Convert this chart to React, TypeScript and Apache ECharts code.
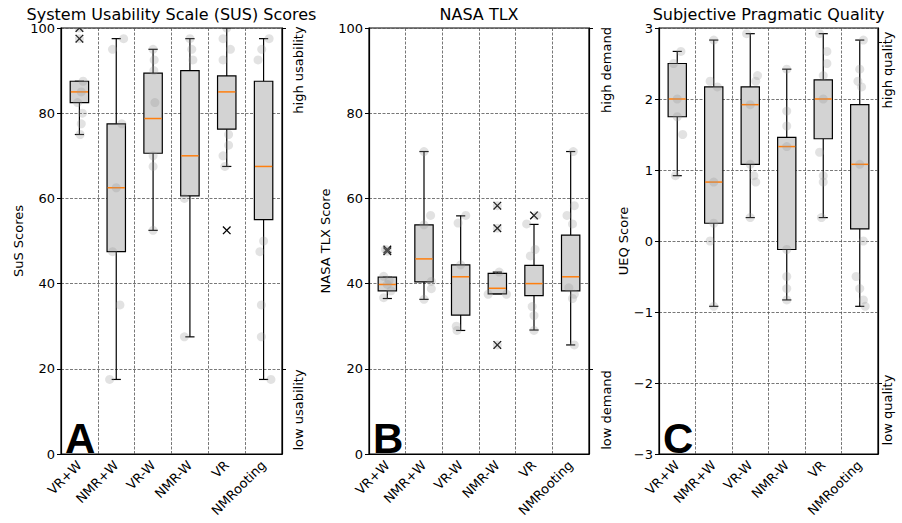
import React, { useEffect, useRef } from "react";
import * as echarts from "echarts";

const categories = ["VR+W", "NMR+W", "VR-W", "NMR-W", "VR", "NMRooting"];

// Box statistics per condition: [lower whisker, Q1, median, Q3, upper whisker]
const susBoxes = [
  [75, 82.5, 85, 87.5, 87.5],
  [17.5, 47.5, 62.5, 77.5, 97.5],
  [52.5, 70.6, 78.75, 89.4, 95],
  [27.5, 60.6, 70, 90, 97.5],
  [67.5, 76.25, 85, 88.75, 100],
  [17.5, 55, 67.5, 87.5, 97.5],
];
const tlxBoxes = [
  [36.5, 38.3, 39.8, 41.5, 41.5],
  [36.3, 40.4, 45.8, 53.8, 71],
  [29.0, 32.6, 41.6, 44.4, 55.9],
  [37.6, 37.6, 38.9, 42.4, 42.7],
  [29.1, 37.2, 40, 44.3, 53.9],
  [25.6, 38.3, 41.6, 51.4, 71],
];
const ueqBoxes = [
  [0.92, 1.75, 2.0, 2.5, 2.67],
  [-0.92, 0.25, 0.83, 2.17, 2.83],
  [0.33, 1.08, 1.92, 2.17, 2.92],
  [-0.83, -0.12, 1.33, 1.46, 2.42],
  [0.33, 1.44, 2.0, 2.27, 2.92],
  [-0.92, 0.17, 1.08, 1.92, 2.83],
];

// Outliers: [condition index, value]
const susOutliers = [[0, 97.5], [0, 100], [4, 52.5]];
const tlxOutliers = [[0, 48], [0, 47.6], [3, 58.3], [3, 53], [3, 25.6], [4, 56]];
const ueqOutliers: number[][] = [];

// Individual responses: [condition index, value, horizontal jitter (fraction of band)]
const susPoints = [
  [0, 100, 0], [0, 97.5, 0], [0, 87.5, 0.1], [0, 85, 0.05], [0, 82.5, -0.05], [0, 80, 0.08], [0, 77.5, 0.05], [0, 75, 0.02],
  [1, 97.5, 0.2], [1, 95, -0.1], [1, 77.5, 0.15], [1, 62.5, 0], [1, 47.5, -0.1], [1, 35, 0.1], [1, 17.5, -0.18],
  [2, 95, 0], [2, 92.5, 0.03], [2, 90, 0.02], [2, 82.5, 0.05], [2, 70, 0], [2, 67.5, 0], [2, 52.5, 0],
  [3, 97.5, 0], [3, 95, 0.05], [3, 92.5, 0.08], [3, 60, -0.15], [3, 27.5, -0.15],
  [4, 100, 0], [4, 97.5, -0.1], [4, 95, 0.1], [4, 92.5, -0.1], [4, 75, 0.05], [4, 72.5, 0.05], [4, 70, -0.1], [4, 67.5, -0.05],
  [5, 97.5, 0.15], [5, 95, -0.05], [5, 92.5, -0.15], [5, 50, 0], [5, 47.5, -0.1], [5, 35, -0.06], [5, 27.5, -0.06], [5, 17.5, 0.2],
];
const tlxPoints = [
  [0, 48, -0.05], [0, 47.6, 0], [0, 41.7, -0.1], [0, 40.8, 0.05], [0, 39.8, 0], [0, 38.3, 0.1], [0, 36.7, -0.1],
  [1, 71, 0], [1, 56, 0.18], [1, 53.8, 0], [1, 40.5, 0.2], [1, 38.8, 0.2], [1, 36.3, 0],
  [2, 56, 0.14], [2, 54.2, -0.07], [2, 44.4, 0], [2, 30, -0.12], [2, 29, -0.1],
  [3, 58.3, 0], [3, 53, 0], [3, 42.7, 0.05], [3, 37.5, -0.25], [3, 37.5, 0.25], [3, 25.6, 0],
  [4, 56, 0.08], [4, 54, -0.2], [4, 48, 0.03], [4, 46.5, -0.1], [4, 34.6, -0.05], [4, 32.5, 0], [4, 29, 0],
  [5, 71, 0.07], [5, 58.3, 0.1], [5, 56, -0.1], [5, 54, 0.05], [5, 39, -0.05], [5, 37.5, 0.1], [5, 36.5, 0.05], [5, 25.6, 0.1],
];
const ueqPoints = [
  [0, 2.67, 0.1], [0, 2.5, -0.1], [0, 2.0, 0], [0, 1.75, 0], [0, 1.5, 0.15], [0, 0.92, -0.05],
  [1, 2.83, 0], [1, 2.25, -0.1], [1, 2.17, 0.1], [1, 0.83, 0], [1, 0.25, 0], [1, 0, -0.1], [1, -0.92, 0],
  [2, 2.92, -0.1], [2, 2.33, 0.2], [2, 2.25, 0.15], [2, 1.92, 0], [2, 1.08, 0], [2, 0.92, 0.1], [2, 0.83, 0.15], [2, 0.33, 0],
  [3, 2.42, 0], [3, 1.83, 0], [3, 1.62, 0], [3, 1.33, 0], [3, -0.12, 0], [3, -0.5, 0], [3, -0.67, 0], [3, -0.83, 0],
  [4, 2.92, -0.1], [4, 2.67, 0.1], [4, 2.5, 0.1], [4, 2.33, 0], [4, 2.0, 0], [4, 1.25, -0.1], [4, 0.92, 0], [4, 0.83, 0], [4, 0.33, -0.05],
  [5, 2.83, 0.1], [5, 2.42, 0], [5, 2.25, -0.05], [5, 2.17, 0.05], [5, 1.08, 0], [5, 0, 0.1], [5, -0.5, -0.1], [5, -0.67, 0], [5, -0.83, 0.1], [5, -0.92, 0.15],
];

const FONT = "DejaVu Sans";
const GRID_TOP = 28;
const GRID_HEIGHT = 426;

const panels = [
  {
    left: 61, width: 221, title: "System Usability Scale (SUS) Scores", yName: "SuS Scores", nameGap: 36,
    min: 0, max: 100, interval: 20, letter: "A", high: "high usability", low: "low usability",
    rightTicks: [100, 20], sideX: 298,
    boxes: susBoxes, outliers: susOutliers, points: susPoints,
  },
  {
    left: 369, width: 220, title: "NASA TLX", yName: "NASA TLX Score", nameGap: 37,
    min: 0, max: 100, interval: 20, letter: "B", high: "high demand", low: "low demand",
    rightTicks: [100, 20], sideX: 606,
    boxes: tlxBoxes, outliers: tlxOutliers, points: tlxPoints,
  },
  {
    left: 659, width: 219, title: "Subjective Pragmatic Quality", yName: "UEQ Score", nameGap: 27,
    min: -3, max: 3, interval: 1, letter: "C", high: "high quality", low: "low quality",
    rightTicks: [2.8, -2], sideX: 887,
    boxes: ueqBoxes, outliers: ueqOutliers, points: ueqPoints,
  },
];

const line = (x1: number, y1: number, x2: number, y2: number, stroke: string, lineWidth: number) => ({
  type: "line",
  shape: { x1, y1, x2, y2 },
  style: { stroke, lineWidth },
});

function renderBox(_params: any, api: any) {
  const cat = api.value(0);
  const band = api.size([1, 0])[0];
  const bw = band * 0.5;
  const cw = bw * 0.5;
  const [cx, yMin] = api.coord([cat, api.value(1)]);
  const yQ1 = api.coord([cat, api.value(2)])[1];
  const yMed = api.coord([cat, api.value(3)])[1];
  const yQ3 = api.coord([cat, api.value(4)])[1];
  const yMax = api.coord([cat, api.value(5)])[1];
  return {
    type: "group",
    children: [
      line(cx, yMin, cx, yQ1, "#000", 1.2),
      line(cx, yQ3, cx, yMax, "#000", 1.2),
      line(cx - cw / 2, yMin, cx + cw / 2, yMin, "#000", 1.2),
      line(cx - cw / 2, yMax, cx + cw / 2, yMax, "#000", 1.2),
      {
        type: "rect",
        shape: { x: cx - bw / 2, y: yQ3, width: bw, height: yQ1 - yQ3 },
        style: { fill: "#d3d3d3", stroke: "#000", lineWidth: 1.2 },
      },
      line(cx - bw / 2 + 0.6, yMed, cx + bw / 2 - 0.6, yMed, "#ff7f0e", 1.5),
    ],
  };
}

function renderPoint(_params: any, api: any) {
  const band = api.size([1, 0])[0];
  const [x, y] = api.coord([api.value(0), api.value(1)]);
  return {
    type: "circle",
    shape: { cx: x + api.value(2) * band, cy: y, r: 4.5 },
    style: { fill: "rgba(150,150,150,0.28)" },
  };
}

function renderCross(_params: any, api: any) {
  const [x, y] = api.coord([api.value(0), api.value(1)]);
  const s = 3.8;
  return {
    type: "group",
    children: [
      line(x - s, y - s, x + s, y + s, "#000", 1.3),
      line(x - s, y + s, x + s, y - s, "#000", 1.3),
    ],
  };
}

function buildOption() {
  const grid: any[] = [];
  const xAxis: any[] = [];
  const yAxis: any[] = [];
  const series: any[] = [];
  const graphic: any[] = [];
  const dashed = { color: "#555", width: 0.8, type: [3, 1.5] };

  panels.forEach((p, i) => {
    grid.push({
      left: p.left, top: GRID_TOP, width: p.width, height: GRID_HEIGHT,
      show: true, borderColor: "#000", borderWidth: 1.2, backgroundColor: "transparent",
      containLabel: false, outerBoundsMode: "none",
    });
    xAxis.push({
      type: "category", gridIndex: i, data: categories, boundaryGap: true,
      axisLine: { onZero: false, lineStyle: { color: "#000", width: 1.2 } },
      axisTick: { alignWithLabel: true, length: 4, lineStyle: { color: "#000" } },
      axisLabel: { rotate: 45, interval: 0, margin: 9, color: "#000", fontSize: 13, fontFamily: FONT },
      splitLine: { show: true, interval: 0, lineStyle: dashed },
    });
    yAxis.push({
      type: "value", gridIndex: i, position: "left", min: p.min, max: p.max, interval: p.interval,
      name: p.yName, nameLocation: "middle", nameGap: p.nameGap,
      nameTextStyle: { color: "#000", fontSize: 13, fontFamily: FONT },
      axisLine: { show: true, onZero: false, lineStyle: { color: "#000", width: 1.2 } },
      axisTick: { show: true, length: 4, lineStyle: { color: "#000" } },
      axisLabel: {
        color: "#000", fontSize: 13, fontFamily: FONT, margin: 6,
        formatter: (v: number) => String(v).replace("-", "\u2212"),
      },
      splitLine: { show: true, lineStyle: dashed },
    });
    yAxis.push({
      type: "value", gridIndex: i, position: "right", min: p.min, max: p.max,
      axisLine: { show: true, onZero: false, lineStyle: { color: "#000", width: 1.2 } },
      axisTick: { show: true, length: 4, customValues: p.rightTicks, lineStyle: { color: "#000" } },
      axisLabel: { show: false },
      splitLine: { show: false },
    });
    const yIdx = i * 2;
    series.push({
      type: "custom", xAxisIndex: i, yAxisIndex: yIdx, renderItem: renderBox, clip: true,
      encode: { x: 0, y: [1, 2, 3, 4, 5] },
      data: p.boxes.map((b, k) => [k, ...b]), z: 2,
    });
    series.push({
      type: "custom", xAxisIndex: i, yAxisIndex: yIdx, renderItem: renderCross, clip: true,
      encode: { x: 0, y: 1 }, data: p.outliers, z: 3,
    });
    series.push({
      type: "custom", xAxisIndex: i, yAxisIndex: yIdx, renderItem: renderPoint, clip: true,
      encode: { x: 0, y: 1 }, data: p.points, z: 4,
    });

    const cx = p.left + p.width / 2;
    graphic.push({
      type: "text", x: cx, y: 14,
      style: { text: p.title, fill: "#000", font: `16px "${FONT}"`, align: "center", verticalAlign: "middle" },
    });
    graphic.push({
      type: "text", x: p.left + 4, y: 438,
      style: { text: p.letter, fill: "#000", font: `bold 42px "Liberation Sans"`, align: "left", verticalAlign: "middle" },
    });
    graphic.push({
      type: "text", x: p.sideX, y: 70, rotation: Math.PI / 2,
      style: { text: p.high, fill: "#000", font: `13px "${FONT}"`, align: "center", verticalAlign: "middle" },
    });
    graphic.push({
      type: "text", x: p.sideX, y: 410, rotation: Math.PI / 2,
      style: { text: p.low, fill: "#000", font: `13px "${FONT}"`, align: "center", verticalAlign: "middle" },
    });
  });

  return {
    animation: false,
    backgroundColor: "#fff",
    textStyle: { fontFamily: FONT },
    grid, xAxis, yAxis, series, graphic,
  };
}

export default function App() {
  const ref = useRef<HTMLDivElement>(null);
  useEffect(() => {
    document.body.style.margin = "0";
    if (!ref.current) return;
    const chart = echarts.init(ref.current, undefined, { renderer: "svg" });
    chart.setOption(buildOption() as any);
    return () => chart.dispose();
  }, []);
  return <div ref={ref} style={{ width: 902, height: 523 }} />;
}
